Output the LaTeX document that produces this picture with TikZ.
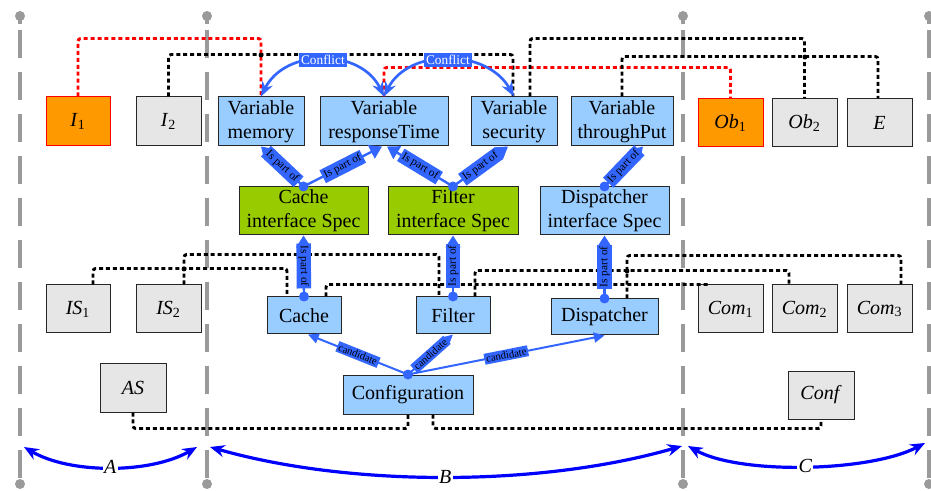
\documentclass[tikz,border=0pt]{standalone}
\usepackage{fontspec}
\setmainfont{Liberation Serif}
\usetikzlibrary{arrows.meta,calc}
\definecolor{boxblue}{HTML}{99CCFF}
\definecolor{boxgreen}{HTML}{99CC00}
\definecolor{boxorange}{HTML}{FF9900}
\definecolor{boxgray}{HTML}{E6E6E6}
\definecolor{linkblue}{HTML}{3366FF}
\definecolor{spanblue}{HTML}{0000FF}
\definecolor{guide}{HTML}{9A9A9A}
\begin{document}
\begin{tikzpicture}[x=0.75pt,y=-0.75pt,
  box/.style 2 args={draw=black!85, line width=0.75pt, minimum width=#1*0.75pt,
    minimum height=#2*0.75pt, inner sep=0pt, align=center,
    font=\fontsize{15}{18}\selectfont},
  bluebox/.style 2 args={box={#1}{#2}, fill=boxblue},
  greenbox/.style 2 args={box={#1}{#2}, fill=boxgreen},
  graybox/.style 2 args={box={#1}{#2}, fill=boxgray},
  orangebox/.style 2 args={box={#1}{#2}, fill=boxorange, draw=red},
  guideline/.style={draw=guide, line width=3pt, dash pattern=on 21pt off 10.5pt, dash phase=21pt},
  dotline/.style={draw=black, line width=2.2pt, dash pattern=on 3pt off 2.2pt, rounded corners=2pt},
  reddot/.style={dotline, draw=red},
  partof/.style={draw=linkblue, line width=1.8pt, -{Triangle[length=9pt,width=11pt]}},
  candidate/.style={draw=linkblue, line width=1.5pt, -{Triangle[length=8pt,width=7.5pt]}},
  plabel/.style={sloped, fill=linkblue, text=black, font=\fontsize{8.5}{9}\selectfont, inner sep=1.5pt},
  clabel/.style={sloped, fill=linkblue, text=black, font=\fontsize{8}{9}\selectfont, inner sep=1.3pt},
  conflict/.style={draw=linkblue, line width=2pt, {Stealth[length=11pt,width=8.5pt]}-{Stealth[length=11pt,width=8.5pt]}},
  flabel/.style={fill=linkblue, text=white, font=\fontsize{10}{12}\selectfont, inner sep=1.5pt},
  span/.style={draw=spanblue, line width=2.4pt, {Stealth[length=11pt,width=9pt]}-{Stealth[length=11pt,width=9pt]}},
  slabel/.style={fill=white, font=\fontsize{15}{18}\selectfont\itshape, inner sep=1pt},
  junction/.style={fill=black}
]
\useasboundingbox (0,0) rectangle (931,491);
\fill[white] (0,0) rectangle (931,491);

% region separators
\foreach \x in {20,207,683,929}{
  \draw[guideline] (\x,16) -- (\x,484);
  \draw[guide, line width=3pt] (\x,16) -- (\x,24);
  \fill[guide] (\x,16) circle[radius=3.75pt] (\x,484) circle[radius=3.75pt];
}

% top row
\node[orangebox={64}{49}] (i1) at (78,121.5) {\textit{I}\textsubscript{1}};
\node[graybox={65}{49}] (i2) at (168.5,121.5) {\textit{I}\textsubscript{2}};
\node[bluebox={86}{49}] (mem) at (261,121.5) {Variable\\memory};
\node[bluebox={128}{49}] (rt) at (384,121.5) {Variable\\responseTime};
\node[bluebox={86}{49}] (sec) at (514,121.5) {Variable\\security};
\node[bluebox={102}{49}] (tp) at (622,121.5) {Variable\\throughPut};
\node[orangebox={65}{48}] (ob1) at (730.5,123) {\textit{Ob}\textsubscript{1}};
\node[graybox={65}{48}] (ob2) at (804.5,123) {\textit{Ob}\textsubscript{2}};
\node[graybox={65}{48}] (e) at (879.5,123) {\textit{E}};

% interface specifications
\node[greenbox={129}{48}] (cspec) at (303.5,211) {Cache\\interface Spec};
\node[greenbox={130}{48}] (fspec) at (453,211) {Filter\\interface Spec};
\node[bluebox={129}{48}] (dspec) at (604.5,211) {Dispatcher\\interface Spec};

% components
\node[graybox={64}{48}] (is1) at (78,309) {\textit{IS}\textsubscript{1}};
\node[graybox={65}{48}] (is2) at (168.5,309) {\textit{IS}\textsubscript{2}};
\node[bluebox={74}{37}] (cache) at (304,315.5) {Cache};
\node[bluebox={74}{37}] (filter) at (453,315.5) {Filter};
\node[bluebox={107}{36}] (disp) at (604.5,317) {Dispatcher};
\node[graybox={65}{48}] (com1) at (730.5,309) {\textit{Com}\textsubscript{1}};
\node[graybox={65}{48}] (com2) at (804.5,309) {\textit{Com}\textsubscript{2}};
\node[graybox={65}{48}] (com3) at (879.5,309) {\textit{Com}\textsubscript{3}};

% configuration row
\node[graybox={66}{49}] (as) at (133,387.5) {\textit{AS}};
\node[bluebox={130}{39}] (cfg) at (408,394.5) {Configuration};
\node[graybox={66}{48}] (conf) at (821,395) {\textit{Conf}};

% correspondences, top
\draw[reddot] (i1.north) -- ++(0,-58) -| (mem.north);
\draw[dotline] (i2.north) -- ++(0,-42) -| ($(sec.north)+(-1,0)$);
\draw[reddot] (rt.north) -- ++(0,-29) -| (ob1.north);
\draw[dotline] ($(sec.north)+(16,0)$) -- ++(0,-58) -| (ob2.north);
\draw[dotline] (tp.north) -- ++(0,-40) -| ($(e.north)+(-1.5,0)$);

% correspondences, components
\draw[dotline] ($(is1.north)+(15,0)$) -- ++(0,-16) -| ($(cache.north)+(-17,0)$);
\draw[dotline] ($(is2.north)+(15.5,0)$) -- ++(0,-30) -| ($(filter.north)+(-14,0)$);
\draw[dotline] ($(cache.north)+(22,0)$) -- ++(0,-12) -- ($(com1.north west)+(10,0)$);
\draw[dotline] ($(filter.north)+(22,0)$) -- ++(0,-26) -| ($(com2.north)+(-15.5,0)$);
\draw[dotline] ($(disp.north)+(22.5,0)$) -- ++(0,-43) -| ($(com3.north)+(21.5,0)$);

% correspondences, configuration
\draw[dotline] (as.south) -- ++(0,16) -| (cfg.south);
\draw[dotline] ($(cfg.south)+(25,0)$) -- ++(0,14) -| (conf.south);

% line junctions
\fill[junction] (261,55) circle[radius=1.8pt];
\fill[junction] (805,57) circle[radius=1.8pt];
\fill[junction] (184,269) circle[radius=1.8pt];
\fill[junction] (627,271) circle[radius=1.8pt];

% conflicts
\draw[conflict] (mem.north) .. controls (285,48) and (361,48) .. node[flabel]{Conflict} (rt.north);
\draw[conflict] (rt.north) .. controls (408,48) and (487,48) .. node[flabel]{Conflict} (sec.north);

% part-of relations
\draw[partof] (cspec.north) -- node[plabel]{Is part of} (mem.south);
\draw[partof] (cspec.north) -- node[plabel]{Is part of} ($(rt.south)+(-2,0)$);
\draw[partof] (fspec.north) -- node[plabel]{Is part of} ($(rt.south)+(3,0)$);
\draw[partof] (fspec.north) -- node[plabel]{Is part of} ($(sec.south)+(-6,0)$);
\draw[partof] (dspec.north) -- node[plabel]{Is part of} ($(tp.south)+(21,0)$);
\draw[partof] (cache.north) -- node[plabel]{Is part of} (cspec.south);
\draw[partof] (filter.north) -- node[plabel]{Is part of} (fspec.south);
\draw[partof] (disp.north) -- node[plabel]{Is part of} (dspec.south);
\foreach \n in {cspec,fspec,dspec,cache,filter,disp}
  \fill[linkblue] (\n.north) circle[radius=3.75pt];

% candidates
\draw[candidate] (cfg.north) -- node[clabel]{candidate} ($(cache.south)+(4,0)$);
\draw[candidate] (cfg.north) -- node[clabel]{candidate} (filter.south);
\draw[candidate] (cfg.north) -- node[clabel]{candidate} (disp.south);
\fill[linkblue] (cfg.north) circle[radius=3.75pt];

% region spans
\coordinate (a0) at (24,447);  \coordinate (a1) at (197,447);
\coordinate (b0) at (210,447); \coordinate (b1) at (682,446);
\coordinate (c0) at (688,446); \coordinate (c1) at (925,443);
\draw[span] (a0) .. controls (70,474) and (150,474) .. node[slabel]{A} (a1);
\draw[span] (b0) .. controls (350,487) and (540,487) .. node[slabel]{B} (b1);
\draw[span] (c0) .. controls (740,475) and (870,472) .. node[slabel]{C} (c1);
\end{tikzpicture}
\end{document}
